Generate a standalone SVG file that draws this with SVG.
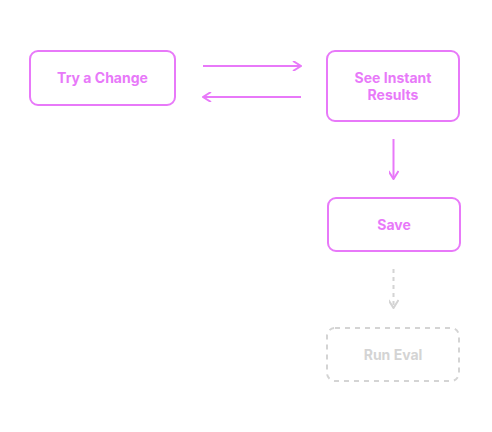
<svg xmlns="http://www.w3.org/2000/svg" width="492" height="432" viewBox="0 0 492 432">
<style>
.box{fill:#fff;stroke:#e879f9;stroke-width:2}
.dbox{fill:#fff;stroke:#d4d4d4;stroke-width:2;stroke-dasharray:5 5}
.t{font-family:Inter,"Liberation Sans",sans-serif;font-size:14px;font-weight:700;fill:#e879f9;text-anchor:middle}
.tg{fill:#d4d4d4}
.c{fill:none;stroke:#e879f9;stroke-width:2}
.cg{fill:none;stroke:#d4d4d4;stroke-width:2;stroke-dasharray:4 4}
</style>
<defs>
<marker id="ah" viewBox="0 0 10 10" refX="9" refY="5" markerWidth="10" markerHeight="10" markerUnits="userSpaceOnUse" orient="auto"><path d="M1,0 L9,5 L1,10" fill="none" stroke="#e879f9" stroke-width="2"/></marker>
<marker id="ahg" viewBox="0 0 10 10" refX="9" refY="5" markerWidth="10" markerHeight="10" markerUnits="userSpaceOnUse" orient="auto"><path d="M1,0 L9,5 L1,10" fill="none" stroke="#d4d4d4" stroke-width="2"/></marker>
</defs>
<rect width="492" height="432" fill="#fff"/>
<g id="connectors">
<line class="c" x1="203" y1="66" x2="301" y2="66" marker-end="url(#ah)"/>
<line class="c" x1="301" y1="97" x2="203" y2="97" marker-end="url(#ah)"/>
<line class="c" x1="393.5" y1="139" x2="393.5" y2="179" marker-end="url(#ah)"/>
<line class="cg" x1="393.5" y1="269" x2="393.5" y2="308" marker-end="url(#ahg)"/>
</g>
<g id="try">
<rect class="box" x="30" y="51" width="145" height="54" rx="8"/>
<text class="t" x="102.5" y="83">Try a Change</text>
</g>
<g id="see">
<rect class="box" x="327" y="51" width="132" height="70" rx="8"/>
<text class="t" x="393" y="83">See Instant</text>
<text class="t" x="393" y="100">Results</text>
</g>
<g id="save">
<rect class="box" x="328" y="198" width="132" height="53" rx="8"/>
<text class="t" x="394" y="230">Save</text>
</g>
<g id="run">
<rect class="dbox" x="327" y="328" width="132" height="53" rx="8"/>
<text class="t tg" x="393" y="360">Run Eval</text>
</g>
</svg>
